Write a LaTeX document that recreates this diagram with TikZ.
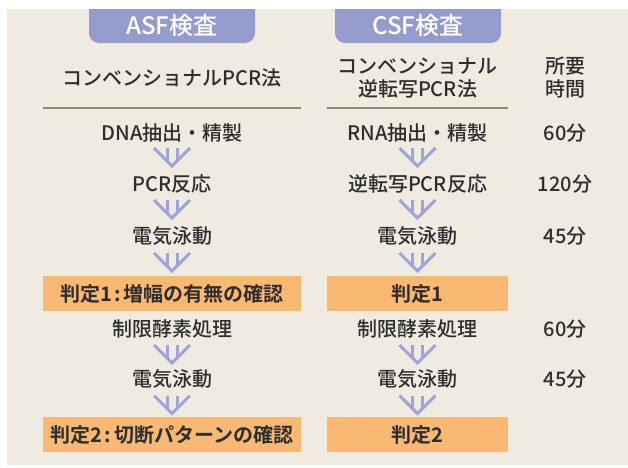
\documentclass[tikz,border=0pt]{standalone}
\usepackage{fontspec}
\setmainfont{Noto Sans CJK JP}[UprightFont=* Medium, BoldFont=* Bold]
\definecolor{bgbeige}{HTML}{F0EBE0}
\definecolor{tabblue}{HTML}{959BCC}
\definecolor{arrowblue}{HTML}{9EA3D8}
\definecolor{boxorange}{HTML}{FAB973}
\definecolor{txtgray}{HTML}{2E2E2E}
\definecolor{rulegray}{HTML}{8C877B}
\tikzset{
  lbl/.style={inner sep=0pt, text height=0.83em, text depth=0.07em, yshift=-4.5pt, text=txtgray, font=\fontsize{20}{24}\selectfont},
  tablbl/.style={inner sep=0pt, text height=0.83em, text depth=0.07em, yshift=-4.5pt, text=white, font=\fontsize{24}{28}\selectfont},
  boxlbl/.style={inner sep=0pt, text height=0.83em, text depth=0.07em, yshift=-4.5pt, text=txtgray, font=\fontsize{20}{24}\selectfont\bfseries},
  obox/.style={fill=boxorange, draw=none},
  hrule/.style={draw=rulegray, line width=1.8pt},
  dblarrow/.pic={
    \draw[arrowblue, line width=3pt, line join=miter] (-18,-9) -- (0,9) -- (18,-9);
    \draw[arrowblue, line width=3pt] (-5,-9) -- (-5,4);
    \draw[arrowblue, line width=3pt] (5,-9) -- (5,4);
  }
}
\begin{document}
\begin{tikzpicture}[x=1pt,y=-1pt]
\useasboundingbox (0,0) rectangle (628,467);
\fill[white] (0,0) rectangle (628,467);
\fill[bgbeige] (7,9) rectangle (628,465);
% tabs
\fill[tabblue] (89,9) [rounded corners=10pt] -- (89,43) -- (255,43) [sharp corners] -- (255,9) -- cycle;
\fill[tabblue] (335,9) [rounded corners=10pt] -- (335,43) -- (501,43) [sharp corners] -- (501,9) -- cycle;
\node[tablbl] (asf) at (172,26) {ASF検査};
\node[tablbl] (csf) at (418,26) {CSF検査};
% headers
\node[lbl] (h1) at (172,77) {コンベンショナルPCR法};
\node[lbl] (h2a) at (417.5,65) {コンベンショナル};
\node[lbl] (h2b) at (417.5,88) {逆転写PCR法};
\node[lbl] (t0a) at (565,65) {所要};
\node[lbl] (t0b) at (565,88) {時間};
\draw[hrule] (43,108) -- (301,108);
\draw[hrule] (327,108) -- (508,108);
% left column
\node[lbl] (a1) at (172,132) {DNA抽出・精製};
\node[lbl] (a2) at (172,183) {PCR反応};
\node[lbl] (a3) at (172,235) {電気泳動};
\fill[obox] (43,276) rectangle (301,311);
\node[boxlbl] (a4) at (172,293.5) {判定1\hspace{2pt}:\hspace{3pt}増幅の有無の確認};
\node[lbl] (a5) at (172,328) {制限酵素処理};
\node[lbl] (a6) at (172,378) {電気泳動};
\fill[obox] (43,417) rectangle (301,452);
\node[boxlbl] (a7) at (172,434.5) {判定2\hspace{2pt}:\hspace{3pt}切断パターンの確認};
% right column
\node[lbl] (b1) at (417.5,132) {RNA抽出・精製};
\node[lbl] (b2) at (417.5,183) {逆転写PCR反応};
\node[lbl] (b3) at (417.5,235) {電気泳動};
\fill[obox] (327,276) rectangle (508,311);
\node[boxlbl] (b4) at (417.5,293.5) {判定1};
\node[lbl] (b5) at (417.5,328) {制限酵素処理};
\node[lbl] (b6) at (417.5,378) {電気泳動};
\fill[obox] (327,417) rectangle (508,452);
\node[boxlbl] (b7) at (417.5,434.5) {判定2};
% times
\node[lbl] (c1) at (565,132) {60分};
\node[lbl] (c2) at (565,183) {120分};
\node[lbl] (c3) at (565,235) {45分};
\node[lbl] (c5) at (565,328) {60分};
\node[lbl] (c6) at (565,378) {45分};
% arrows
\pic at (172,157) {dblarrow};
\pic at (172,209) {dblarrow};
\pic at (172,262) {dblarrow};
\pic at (172,354) {dblarrow};
\pic at (172,404.5) {dblarrow};
\pic at (417.5,157) {dblarrow};
\pic at (417.5,209) {dblarrow};
\pic at (417.5,262) {dblarrow};
\pic at (417.5,354) {dblarrow};
\pic at (417.5,404.5) {dblarrow};
\end{tikzpicture}
\end{document}
